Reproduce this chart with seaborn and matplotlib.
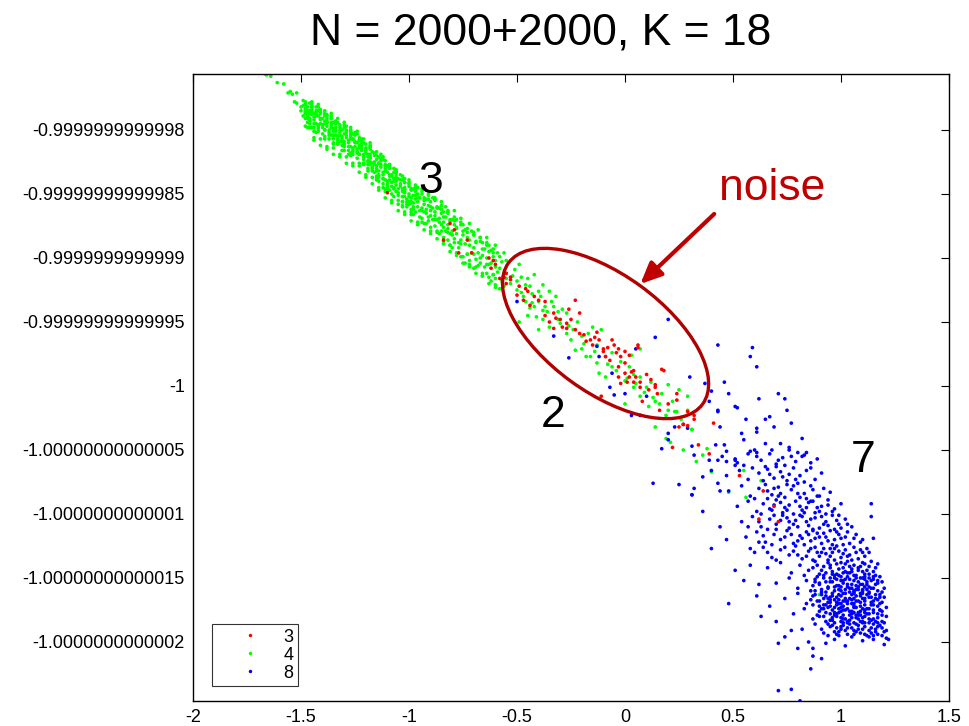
import numpy as np
import pandas as pd
import matplotlib
matplotlib.use("Agg")
import matplotlib.pyplot as plt
import seaborn as sns
from matplotlib.patches import Ellipse
from matplotlib.lines import Line2D
from matplotlib.transforms import ScaledTranslation

# points as (x*100, offset*100), where y = -1 + offset*1e-13
red_pts = [(-110,151),(-84,114),(-81,127),(-79,122),(-73,114),(-71,104),(-77,104),(-63,100),(-60,95),(-55,88),
           (-53,83),(-56,85),(-61,98),(-58,84),(-53,85),(-50,71),(-46,76),(-45,74),(-47,67),(-44,63),(-40,67),
           (-37,66),(-37,55),(-33,57),(-32,53),(-30,52),(-27,49),(-23,67),(-21,57),(-33,45),(-29,46),(-27,45),
           (-23,44),(-21,41),(-19,40),(-18,35),(-16,36),(-15,32),(-13,42),(-12,36),(-10,29),(-10,27),(-9,23),
           (-6,36),(-5,32),(-3,29),(-4,26),(-2,23),(0,27),(2,24),(6,32),(0,18),(-3,15),(0,10),(3,11),(5,7),
           (7,3),(10,9),(4,3),(1,3),(-2,2),(7,-1),(14,-1),(15,-6),(8,-12),(11,-3),(16,-19),(20,-14),(24,-6),
           (25,-32),(17,13),(-3,7),(2,7),(-11,-8),(34,-46),(41,-29),(-62,92),(-55,80),(-49,78),(53,-70),
           (64,-82),(69,-94),(62,-104),(71,-106),(39,-53),(22,-48),(29,-31),(32,-26),(27,-30),(18,12),(6,30),
           (14,1),(4,12),(24,-11),(29,-20),(32,-23),(-26,60),(-35,50),(-42,70),(-25,52),(-8,30),(-14,38),
           (-7,20),(12,5)]

green_pts = [(-167,244),(-166,243),(-164,242),(-161,237),(-158,236),(-156,229),(-155,230),(-154,228),(-152,229),
             (-153,222),(-152,221),(-150,218),(-150,215),(-149,219),(-148,213),(-148,217),(-147,211),(-147,215),
             (-146,213),(-146,209),
             (-148,214),(-147,218),(-148,209),(-147,211),(-148,222),(-147,206),(-148,216),(-147,213),(-148,220),
             (-145,212),(-146,209),(-145,216),(-146,205),(-145,214),(-146,202),(-145,218),(-146,207),(-145,221),
             (-144,208),(-143,211),(-144,205),(-143,215),(-144,202),(-143,213),(-144,199),(-143,218),(-144,210),
             (-141,209),(-142,204),(-141,214),(-142,202),(-141,208),(-142,201),(-141,216),(-142,199),(-141,205),
             (-139,205),(-140,209),(-139,200),(-140,202),(-139,213),(-140,197),(-139,207),(-140,204),(-139,211),
             (-138,203),(-137,200),(-138,207),(-137,196),(-138,205),(-137,193),(-138,209),(-137,198),(-138,212),
             (-135,199),(-136,202),(-135,196),(-136,206),(-135,193),(-136,204),(-135,190),(-136,209),(-135,201),
             (-134,200),(-133,195),(-134,205),(-133,193),(-134,199),(-133,192),(-134,207),(-133,190),(-134,196),
             (-132,196),(-131,200),(-132,191),(-131,193),(-132,204),(-131,188),(-132,198),(-131,195),(-132,202),
             (-129,194),(-130,191),(-129,198),(-130,187),(-129,196),(-130,184),(-129,200),(-130,189),(-129,203),
             (-128,190),(-127,193),(-128,187),(-127,197),(-128,184),(-127,195),(-128,181),(-127,200),(-128,192),
             (-125,191),(-126,186),(-125,196),(-126,184),(-125,190),(-126,183),(-125,198),(-126,181),(-125,187),
             (-123,186),(-124,190),(-123,181),(-124,183),(-123,194),(-124,178),(-123,188),(-124,185),(-123,192),
             (-122,184),(-121,181),(-122,188),(-121,177),(-122,186),(-121,174),(-122,190),(-121,179),(-122,193),
             (-119,179),(-120,182),(-119,176),(-120,186),(-119,173),(-120,184),(-119,170),(-120,189),(-119,181),
             (-118,179),(-117,174),(-118,185),(-117,171),(-118,178),(-117,170),(-118,187),(-117,168),(-118,175),
             (-116,173),(-115,177),(-116,167),(-115,170),(-116,182),(-115,164),(-116,175),(-115,172),(-116,180),
             (-113,171),(-114,168),(-113,176),(-114,163),(-113,173),(-114,160),(-113,178),(-114,165),(-113,181),
             (-112,165),(-111,168),(-112,162),(-111,173),(-112,158),(-111,170),(-112,155),(-111,176),(-112,167),
             (-109,165),(-110,160),(-109,171),(-110,158),(-109,164),(-110,156),(-109,173),(-110,154),(-109,161),
             (-107,160),(-108,165),(-107,154),(-108,156),(-107,170),(-108,150),(-107,162),(-108,159),(-107,167),
             (-106,157),(-105,154),(-106,162),(-105,149),(-106,160),(-105,145),(-106,164),(-105,151),(-106,168),
             (-103,152),(-104,156),(-103,148),(-104,161),(-103,144),(-104,158),(-103,140),(-104,165),(-103,154),
             (-102,153),(-101,146),(-102,159),(-101,144),(-102,151),(-101,142),(-102,162),(-101,140),(-102,148),
             (-100,148),(-99,153),(-100,142),(-99,144),(-100,158),(-99,138),(-100,150),(-99,147),(-100,156),
             (-97,146),(-98,143),(-97,152),(-98,138),(-97,149),(-98,134),(-97,154),(-98,140),(-97,157),
             (-96,144),(-95,137),(-96,150),(-95,132),(-96,140),(-95,147),(-96,155),
             (-94,139),(-93,145),(-94,131),(-93,136),(-94,150),(-93,142),(-94,128),
             (-92,138),(-91,132),(-92,146),(-91,141),(-92,127),(-91,150),(-92,135),
             (-90,137),(-89,130),(-90,144),(-89,139),(-90,124),(-89,147),(-90,133),
             (-88,133),(-87,139),(-88,125),(-87,130),(-88,146),(-87,121),(-88,136),
             (-86,131),(-85,126),(-86,139),(-85,135),(-86,119),(-85,144),(-86,128),
             (-84,128),(-83,121),(-84,136),(-83,132),(-84,116),(-83,140),(-84,124),
             (-82,123),(-81,129),(-82,114),(-81,119),(-82,136),(-81,110),(-82,126),
             (-80,121),(-79,115),(-80,130),(-79,126),(-80,108),(-79,137),(-80,118),
             (-78,119),(-77,108),(-78,130),(-77,112),(-78,124),(-76,114),(-75,126),(-76,101),(-75,118),(-76,131),
             (-74,111),(-73,103),(-74,122),(-73,116),(-74,96),(-72,110),(-71,121),(-72,98),(-71,104),(-72,127),
             (-70,108),(-69,99),(-70,118),(-69,112),(-70,92),(-68,104),(-67,116),(-68,94),(-67,100),(-68,122),
             (-66,102),(-65,93),(-66,112),(-65,107),(-66,86),(-64,100),(-63,110),(-64,88),(-63,95),(-64,116),
             (-62,96),(-61,87),(-62,106),(-61,101),(-62,82),(-60,93),(-59,104),(-60,84),(-59,89),(-60,110),
             (-58,92),(-57,82),(-58,101),(-57,97),(-58,76),(-56,88),(-55,98),(-56,78),(-55,84),(-56,104),
             (-49,95),(-42,87),(-38,79),(-35,74),(-32,70),(-40,66),(-44,61),(-41,54),(-38,52),(-35,46),(-30,49),
             (-27,57),(-24,44),(-20,39),(-15,46),(-11,44),(-13,32),(-23,28),(-18,23),(-9,23),(-13,18),(-6,15),
             (-12,10),(-9,7),(2,15),(7,7),(14,-12),(20,1),(24,-20),(31,-34),(20,-19),(-55,88),(-53,80),(-50,75),
             (-47,70),(-46,79),(-43,72),(-40,74),(-37,62),(-33,62),(-31,58),(-45,55),(-49,50),(-40,44),(-27,41),
             (-25,36),(-20,29),(-16,23),(-6,26),(-2,19),(4,-1),(10,-1),(12,3),(7,-8),(0,-14),(11,-16),(19,-23),
             (29,-19),(3,24),(7,29),(1,6),(4,9),(29,-8),(25,-3),(23,-20),(16,-14),
             (14,-32),(19,-41),(21,-44),(27,-50),(31,-34),(38,-49),(36,-54),(33,-59),(40,-67),(48,-83),(55,-66),
             (56,-87),(63,-74),(90,-163),
             (-52,86),(-50,82),(-48,85),(-46,66),(-44,78),(-42,62),(-39,70),(-36,58),(-34,66),(-31,52),(-29,60),
             (-26,47),(-22,50),(-19,33),(-17,41),(-14,27),(-8,17),(-4,12),(0,4),(5,2),(9,-5),(13,-9),(17,-6),
             (22,-12),(26,-26),(-51,91),(-48,73),(-45,84),(-43,65),(-38,59)]

# outer and inner fill of the dense green band
green_band_pts = [(-149,223),(-148,203),(-149,211),(-148,220),
                  (-145,219),(-144,194),(-145,222),(-144,192),(-145,202),(-144,213),
                  (-142,218),(-141,193),(-142,220),(-141,188),(-142,203),(-141,213),
                  (-139,212),(-138,187),(-139,215),(-138,185),(-139,195),(-138,206),
                  (-136,211),(-135,186),(-136,213),(-135,181),(-136,196),(-135,206),
                  (-133,206),(-132,181),(-133,209),(-132,179),(-133,189),(-132,200),
                  (-130,204),(-129,179),(-130,206),(-129,174),(-130,189),(-129,199),
                  (-127,199),(-126,174),(-127,202),(-126,172),(-127,182),(-126,193),
                  (-124,197),(-123,172),(-124,199),(-123,167),(-124,182),(-123,192),
                  (-121,190),(-120,165),(-121,193),(-120,163),(-121,173),(-120,184),
                  (-118,188),(-117,163),(-118,190),(-117,158),(-118,173),(-117,183),
                  (-115,180),(-114,155),(-115,183),(-114,153),(-115,163),(-114,174),
                  (-112,177),(-111,152),(-112,179),(-111,147),(-112,162),(-111,172),
                  (-109,170),(-108,145),(-109,173),(-108,143),(-109,153),(-108,164),
                  (-106,167),(-105,142),(-106,169),(-105,137),(-106,152),(-105,162),
                  (-103,161),(-102,136),(-103,164),(-102,134),(-103,144),(-102,155),
                  (-100,159),(-99,134),(-100,161),(-99,129),(-100,144),(-99,154),
                  (-97,153),(-96,128),(-97,156),(-96,126),(-97,136),(-96,147),
                  (-94,152),(-93,127),(-94,154),(-93,122),(-94,137),(-93,147),
                  (-91,146),(-90,121),(-91,149),(-90,119),(-91,129),(-90,140),
                  (-88,145),(-87,120),(-88,147),(-87,115),(-88,130),(-87,140),
                  (-85,138),(-84,113),(-85,141),(-84,111),(-85,121),(-84,132),
                  (-82,135),(-81,110),(-82,137),(-81,105),(-82,120),(-81,130),
                  (-79,129),(-78,104),(-79,132),(-78,102),(-79,112),(-78,123),
                  (-76,126),(-75,101),(-76,128),(-75,96),(-76,111),(-75,121),
                  (-73,120),(-72,95),(-73,123),(-72,93),(-73,103),(-72,114),
                  (-70,118),(-69,93),(-70,120),(-69,88),(-70,103),(-69,113),
                  (-67,113),(-66,88),(-67,116),(-66,86),(-67,96),(-66,107),
                  (-64,110),(-63,85),(-64,112),(-63,80),(-64,95),(-63,105),
                  (-61,104),(-60,79),(-61,107),(-60,77),(-61,87),(-60,98),
                  (-147,209),(-146,215),(-147,202),(-146,221),(-143,205),(-142,211),(-143,198),(-142,215),
                  (-139,200),(-138,206),(-139,193),(-138,211),(-135,196),(-134,202),(-135,189),(-134,206),
                  (-131,191),(-130,197),(-131,184),(-130,202),(-127,187),(-126,193),(-127,180),(-126,197),
                  (-123,181),(-122,187),(-123,174),(-122,192),(-119,175),(-118,181),(-119,168),(-118,186),
                  (-115,168),(-114,174),(-115,161),(-114,179),(-111,161),(-110,167),(-111,154),(-110,172),
                  (-107,155),(-106,161),(-107,148),(-106,166),(-103,148),(-102,154),(-103,141),(-102,159),
                  (-99,143),(-98,149),(-99,136),(-98,154)]

blue_pts = [(-33,39),(-50,66),(-26,22),(-13,31),(-12,23),(5,29),(-6,10),(0,-6),(-7,-1),(-5,-7),(3,-23),(7,-23),
            (10,-8),(20,52),(14,38),(43,32),(59,30),(58,23),(61,15),(30,7),(37,2),(46,3),(40,-4),(48,-6),(43,-20),
            (44,-32),(52,-17),(56,-26),(62,-10),(65,-26),(67,-24),(71,-6),(74,-10),(75,-19),(77,-29),(69,-32),
            (61,-33),(54,-37),(65,-45),(61,-52),(72,-45),(76,-48),(82,-55),(84,-52),(82,-41),(57,-53),(51,-57),
            (43,-58),(47,-59),(43,-76),(36,-71),(40,-66),(32,-80),(31,-85),(44,-82),(46,-46),(51,-62),
            (23,-32),(20,-37),(29,-33),(27,-30),(17,-49),(20,-42),(31,-47),(42,-46),(47,-51),(51,-58),(61,-36),
            (55,-42),(60,-50),(39,-58),(32,-54),(39,-12),(51,-16),(43,-19),
            (13,-76),(25,-77),(31,-85),(40,-127),(51,-144),(48,-170),(36,-98),(44,-110),(47,-120),(55,-152),
            (58,-140),(62,-155),(114,-92),(114,-102),(115,-119),
            (45,-55),(52,-60),(58,-51),(63,-58),(67,-53),(70,-61),(73,-56),(76,-50),(79,-59),(83,-54),(86,-60),
            (89,-57),(55,-62),(61,-55),(68,-50),(74,-62),(80,-52),(65,-63),(71,-58),(77,-55),
            (47,-70),(53,-66),(57,-73),(62,-68),(66,-65),(69,-72),(72,-67),(75,-74),(78,-64),(81,-70),(84,-66),
            (88,-73),(91,-68),(59,-64),(64,-74),(70,-63),(76,-69),(83,-75),(86,-64),(73,-71),(79,-73),(67,-69),
            (48,-82),(54,-78),(58,-86),(62,-80),(65,-77),(68,-85),(71,-79),(74,-87),(77,-81),(80,-76),(83,-84),
            (86,-78),(89,-86),(92,-80),(95,-83),(60,-88),(66,-82),(72,-84),(78,-78),(84,-88),(87,-81),(75,-77),
            (81,-87),(69,-80),
            (52,-94),(57,-90),(61,-98),(64,-92),(67,-96),(70,-89),(73,-99),(76,-93),(79,-90),(82,-97),(85,-91),
            (88,-99),(91,-94),(94,-89),(97,-96),(100,-92),(63,-100),(69,-93),(75,-97),(81,-94),(87,-90),(90,-98),
            (78,-100),(84,-95),(72,-91),(93,-100),
            (54,-106),(59,-102),(63,-110),(67,-104),(70,-108),(73,-101),(76,-111),(79,-105),(82,-102),(85,-109),
            (88,-103),(90,-111),(93,-106),(96,-101),(99,-108),(102,-104),(105,-110),(66,-112),(72,-105),(78,-108),
            (84,-106),(87,-112),(91,-102),(94,-109),(97,-112),(81,-101),(75,-103),(100,-111),
            (56,-118),(61,-114),(65,-122),(69,-116),(72,-120),(75,-113),(78,-123),(81,-117),(84,-114),(86,-121),
            (89,-115),(91,-123),(93,-118),(95,-113),(97,-120),(99,-116),(101,-124),(103,-114),(106,-119),
            (109,-122),(68,-124),(74,-118),(80,-121),(83,-124),(88,-119),(92,-115),(96,-124),(100,-119),
            (104,-123),(87,-113),
            (60,-130),(64,-126),(68,-134),(72,-128),(76,-132),(79,-125),(82,-135),(85,-129),(88,-126),(90,-133),
            (92,-127),(94,-136),(96,-130),(98,-125),(100,-134),(102,-128),(104,-132),(106,-126),(108,-135),
            (110,-130),(112,-127),(70,-136),(78,-129),(84,-133),(89,-130),(93,-131),(97,-127),(101,-131),
            (105,-136),(109,-128),(87,-136),(95,-133),
            (66,-142),(72,-138),(77,-146),(81,-140),(85,-144),(88,-137),(90,-147),(92,-141),(94,-138),(96,-145),
            (98,-139),(99,-148),(101,-142),(103,-137),(104,-146),(106,-140),(108,-144),(110,-138),(111,-147),
            (113,-141),(115,-145),(117,-139),(83,-148),(87,-142),(91,-144),(95,-142),(97,-148),(100,-138),
            (102,-145),(105,-143),(107,-148),(109,-141),(112,-144),(114,-137),(93,-146),(89,-140),
            (70,-154),(76,-150),(80,-158),(84,-152),(87,-156),(89,-149),(91,-159),(93,-153),(95,-150),(97,-157),
            (98,-151),(100,-160),(101,-154),(103,-149),(104,-158),(106,-152),(107,-156),(109,-150),(110,-159),
            (112,-153),(113,-157),(115,-151),(116,-155),(118,-149),(86,-160),(90,-155),(94,-158),(96,-153),
            (99,-156),(102,-151),(105,-155),(108,-159),(111,-151),(114,-158),(117,-154),(92,-150),(88,-153),
            (100,-149),(106,-160),(110,-155),
            (74,-166),(80,-162),(84,-170),(87,-164),(89,-168),(91,-161),(93,-171),(95,-165),(96,-162),(98,-169),
            (99,-163),(101,-172),(102,-166),(104,-161),(105,-170),(107,-164),(108,-168),(110,-162),(111,-171),
            (113,-165),(114,-169),(116,-163),(117,-167),(119,-161),(90,-172),(92,-166),(94,-169),(97,-167),
            (100,-164),(103,-168),(106,-166),(109,-172),(112,-163),(115,-171),(118,-165),(88,-163),(95,-172),
            (100,-170),(106,-162),(110,-166),(113,-161),(86,-167),
            (78,-178),(83,-174),(87,-182),(90,-176),(92,-180),(94,-173),(96,-183),(97,-177),(99,-174),(100,-181),
            (102,-175),(103,-184),(105,-178),(106,-173),(108,-182),(109,-176),(111,-180),(112,-174),(114,-183),
            (115,-177),(117,-181),(118,-175),(119,-179),(93,-184),(95,-178),(98,-180),(101,-179),(104,-176),
            (107,-181),(110,-184),(113,-178),(116,-184),(91,-174),(100,-184),(106,-177),(111,-175),(89,-179),
            (104,-183),(96,-175),(108,-179),
            (82,-190),(88,-186),(92,-193),(95,-188),(97,-185),(99,-192),(101,-187),(103,-194),(105,-189),
            (107,-186),(109,-193),(111,-188),(113,-191),(115,-186),(117,-194),(119,-189),(120,-192),(94,-195),
            (100,-190),(104,-186),(108,-190),(112,-195),(116,-190),(98,-194),(106,-194),(110,-185),(114,-193),
            (102,-191),
            (120,-202),(121,-197),(102,-203),(97,-198),(91,-213),(87,-205),(87,-211),(86,-221),(85,-200),
            (81,-246),(77,-237),(71,-238),(71,-201),(77,-191),(70,-184),(67,-172),(61,-164),(63,-180),(74,-196),
            (80,-205),(93,-201),(110,-199),(115,-198)]

# extra fill of the dense blue core and band
blue_core_pts = [(95,-140),(99,-143),(102,-139),(105,-145),(108,-142),(111,-139),(116,-142),(97,-136),(101,-146),
                 (104,-141),(110,-145),(113,-147),
                 (88,-151),(92,-148),(95,-153),(98,-147),(101,-152),(103,-155),(106,-148),(108,-153),(111,-149),
                 (114,-152),(116,-148),(119,-153),(90,-154),(97,-150),(104,-151),(109,-155),(113,-150),(117,-152),
                 (88,-160),(91,-163),(94,-157),(96,-164),(99,-159),(101,-162),(103,-157),(105,-163),(107,-159),
                 (109,-164),(111,-157),(113,-162),(115,-158),(118,-163),(120,-158),(93,-161),(98,-165),(102,-159),
                 (106,-161),(110,-160),(114,-165),(117,-160),(100,-157),(108,-157),
                 (87,-171),(90,-168),(92,-174),(95,-169),(97,-173),(99,-167),(101,-175),(103,-170),(105,-167),
                 (107,-173),(109,-169),(111,-166),(113,-174),(115,-168),(117,-172),(119,-169),(121,-173),(94,-166),
                 (98,-171),(102,-168),(106,-170),(110,-174),(114,-171),(118,-175),(100,-173),(104,-166),
                 (90,-180),(93,-177),(95,-183),(98,-178),(100,-176),(102,-182),(104,-179),(106,-185),(108,-177),
                 (110,-181),(112,-178),(115,-182),(117,-178),(119,-184),(121,-180),(96,-181),(101,-185),(105,-181),
                 (109,-184),(113,-185),(117,-185),(99,-177),(107,-179),(111,-177),
                 (91,-190),(96,-187),(99,-195),(103,-189),(106,-191),(108,-187),(111,-194),(114,-189),(116,-192),
                 (118,-187),(121,-191),(100,-188),(105,-196),(110,-190),(113,-196),(119,-195),(122,-198),(97,-192),
                 (66,-88),(71,-86),(80,-84),(86,-90),(90,-86),(94,-93),(68,-97),(74,-95),(83,-99),(89,-95),(96,-98),
                 (99,-101),(62,-106),(69,-101),(76,-106),(80,-110),(86,-104),(92,-108),(98,-105),(103,-108),
                 (64,-117),(70,-112),(77,-116),(82,-119),(85,-116),(90,-118),(94,-121),(98,-114),(102,-118),
                 (107,-116),(110,-120),(66,-130),(74,-126),(80,-132),(86,-127),(91,-130),(95,-127),(99,-129),
                 (103,-133),(107,-130),(111,-133),(113,-130),(62,-122),(58,-127),(57,-110),
                 (96,-147),(100,-152),(103,-146),(107,-150),(112,-155),(115,-149),(98,-156),(102,-162),(105,-158),
                 (109,-162),(112,-159),(116,-166),(95,-167),(99,-170),(103,-174),(107,-168),(111,-168),(115,-175),
                 (119,-176),(97,-179),(101,-182),(105,-176),(109,-179),(113,-182),(117,-188),(94,-186),(98,-189),
                 (103,-185),(107,-192),(111,-185),(115,-195),(120,-185),(118,-170),(120,-165),(92,-171),(93,-164),
                 (97,-160),(101,-168),(106,-172),(110,-150)]

groups = ["3", "4", "8"]
colors = ["#ff0000", "#00ff00", "#0000ff"]

x_ticks = [-2, -1.5, -1, -0.5, 0, 0.5, 1, 1.5]
x_ticklabels = ["-2", "-1.5", "-1", "-0.5", "0", "0.5", "1", "1.5"]
# y ticks as offsets from -1 in units of 1e-13
y_ticks = [2, 1.5, 1, 0.5, 0, -0.5, -1, -1.5, -2]
y_ticklabels = ["-0.9999999999998", "-0.99999999999985", "-0.9999999999999", "-0.99999999999995", "-1",
                "-1.00000000000005", "-1.0000000000001", "-1.00000000000015", "-1.0000000000002"]

frames = []
for name, pts in [("4", green_pts + green_band_pts), ("8", blue_pts + blue_core_pts), ("3", red_pts)]:
    arr = np.array(pts) / 100.0
    frames.append(pd.DataFrame({"x": arr[:, 0], "y": arr[:, 1], "group": name}))
df = pd.concat(frames, ignore_index=True)

sns.set_style("white")
plt.rcParams["font.family"] = ["Liberation Sans", "DejaVu Sans"]
plt.rcParams.update({"text.color": "black", "xtick.color": "black", "ytick.color": "black",
                     "axes.edgecolor": "black"})

fig = plt.figure(figsize=(9.69, 7.26), dpi=100)
ax = fig.add_axes([193 / 969, 25 / 726, 756 / 969, 627 / 726])

sns.scatterplot(data=df, x="x", y="y", hue="group", hue_order=groups, palette=colors,
                s=7, linewidth=0, ax=ax, legend=False)

# noise ellipse (drawn in inches around a data point so it keeps its shape)
cx, cy = -0.09, 0.41
ell = Ellipse((0, 0), width=2.40, height=1.18, angle=-36, fill=False, ec="#b00000", lw=2.4,
              transform=fig.dpi_scale_trans + ScaledTranslation(cx, cy, ax.transData))
ax.add_patch(ell)

ax.annotate("", xy=(0.071, 0.797), xytext=(0.413, 1.344),
            arrowprops=dict(arrowstyle="-|>,head_length=0.8,head_width=0.36", lw=3, color="#c00000",
                            mutation_scale=16, shrinkA=0, shrinkB=0))

ax.text(-0.90, 1.508, "3", fontsize=32, ha="center", va="baseline")
ax.text(-0.331, -0.32, "2", fontsize=32, ha="center", va="baseline")
ax.text(1.102, -0.672, "7", fontsize=32, ha="center", va="baseline")
ax.text(0.682, 1.453, "noise", fontsize=32, ha="center", va="baseline", color="#c00000")

fig.text(541 / 969, 1 - 45 / 726, "N = 2000+2000, K = 18", fontsize=32, ha="center", va="baseline")

ax.set_xlim(-2, 1.5)
ax.set_ylim(-2.461, 2.4375)
ax.set_xticks(x_ticks, x_ticklabels)
ax.set_yticks(y_ticks, y_ticklabels)
ax.tick_params(direction="in", length=6, width=0.8, top=True, right=True, labelsize=13, pad=6,
               colors="black")
ax.set_xlabel("")
ax.set_ylabel("")
for sp in ax.spines.values():
    sp.set_color("black")
    sp.set_linewidth(1)

handles = [Line2D([0], [0], ls="none", marker="o", markersize=2.5, markerfacecolor=c, markeredgewidth=0)
           for c in colors]
leg = ax.legend(handles, groups, loc="lower left", bbox_to_anchor=(0.0251, 0.0239), borderaxespad=0,
                fontsize=13, handlelength=3.7, handletextpad=0.0, borderpad=0.25, labelspacing=0.05,
                frameon=True, fancybox=False, edgecolor="black")
leg.get_frame().set_linewidth(0.8)

fig.savefig("out.png", dpi=100, facecolor="white")
